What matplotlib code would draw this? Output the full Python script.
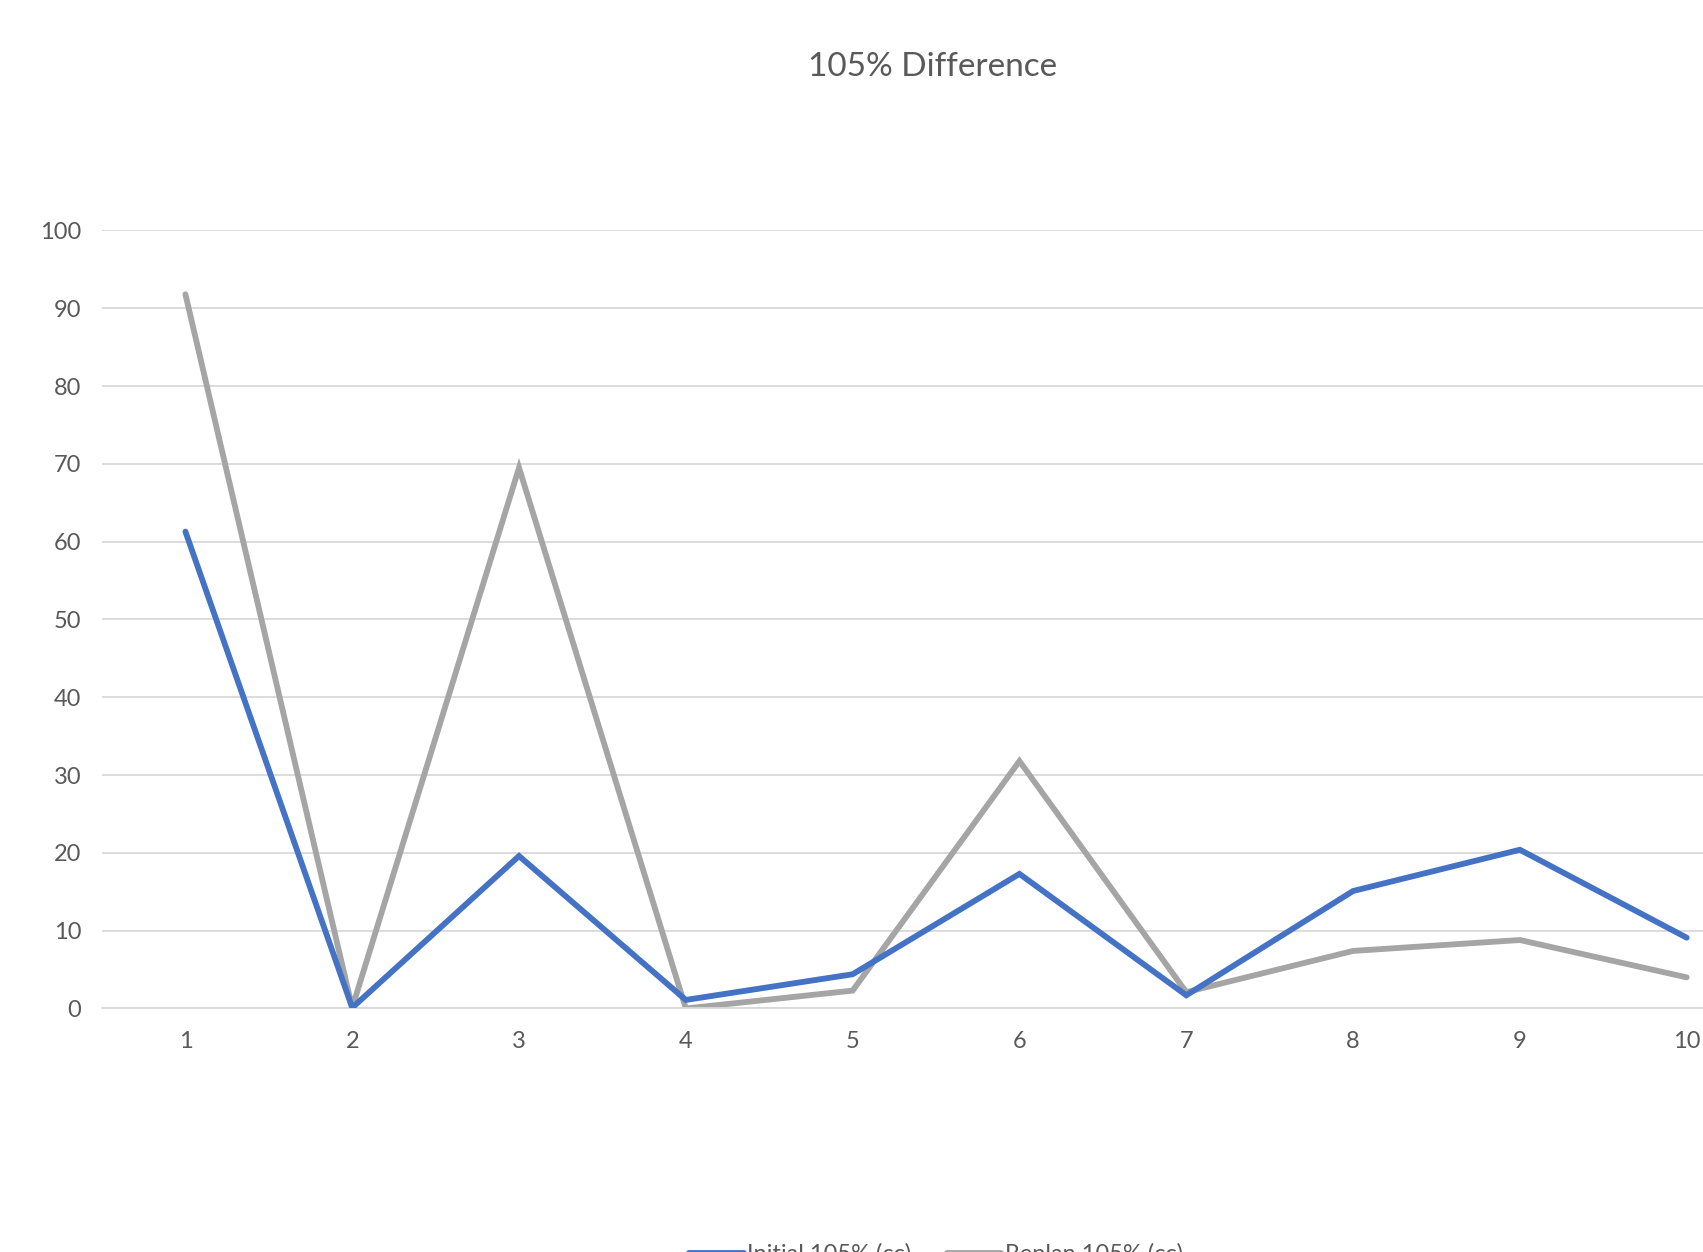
import matplotlib.pyplot as plt
import matplotlib as mpl

mpl.rcParams['font.family'] = ['Lato', 'DejaVu Sans']

# data
cases = [1, 2, 3, 4, 5, 6, 7, 8, 9, 10]
initial_105 = [61.3, 0.1, 19.6, 1.1, 4.4, 17.3, 1.7, 15.1, 20.4, 9.1]
replan_105 = [91.8, 0.1, 69.5, 0.0, 2.3, 31.8, 2.1, 7.4, 8.8, 4.0]
yticks = [0, 10, 20, 30, 40, 50, 60, 70, 80, 90, 100]

fig = plt.figure(figsize=(17.03, 12.52), dpi=100)
# excel plot area runs past the right edge of the picture
ax = fig.add_axes([0.0599, 0.1945, 0.9795, 0.6214])

ax.plot(cases, initial_105, color='#4472C4', lw=4.2, label='Initial 105% (cc)',
        solid_capstyle='round', solid_joinstyle='miter', zorder=3)
ax.plot(cases, replan_105, color='#A5A5A5', lw=4.2, label='Replan 105% (cc)',
        solid_capstyle='round', solid_joinstyle='miter', zorder=2)

ax.set_xlim(0.5, 10.5)
ax.set_ylim(0, 100)
ax.set_xticks(cases)
ax.set_yticks(yticks)
ax.grid(axis='y', color='#D9D9D9', lw=1.3)
ax.set_axisbelow(True)
for s in ['top', 'right', 'left']:
    ax.spines[s].set_visible(False)
ax.spines['bottom'].set_color('#D9D9D9')
ax.spines['bottom'].set_linewidth(1.3)
ax.tick_params(axis='both', length=0, labelsize=17, labelcolor='#595959')
ax.tick_params(axis='y', pad=15)
ax.tick_params(axis='x', pad=16)

fig.text(933 / 1703, 1 - 67 / 1252, '105% Difference', ha='center', va='center',
         fontsize=24, color='#595959')

fig.legend(loc='center', bbox_to_anchor=(936 / 1703, -2 / 1252), ncol=2,
           frameon=False, fontsize=17, labelcolor='#595959', handlelength=2.3,
           handletextpad=0.15, columnspacing=1.5)

fig.savefig('out.png', dpi=100)
